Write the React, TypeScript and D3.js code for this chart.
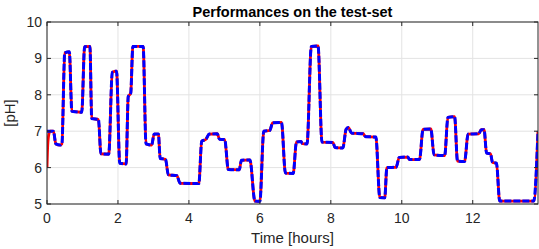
import * as d3 from 'd3';

// measured pH (blue, dashed) on the test set
const timeHours = [
  0.0, 0.18, 0.25, 0.37, 0.42, 0.5, 0.63, 0.7, 0.98, 1.06, 1.21, 1.26, 1.45, 1.52,
  1.74, 1.84, 1.96, 2.05, 2.23, 2.29, 2.36, 2.42, 2.71, 2.79, 2.95, 3.02, 3.14, 3.19,
  3.34, 3.42, 3.66, 3.75, 4.28, 4.36, 4.48, 4.57, 4.8, 4.86, 5.01, 5.11, 5.42, 5.48,
  5.72, 5.86, 6.0, 6.11, 6.28, 6.36, 6.61, 6.72, 6.94, 7.03, 7.16, 7.2, 7.33, 7.45,
  7.64, 7.75, 8.06, 8.12, 8.34, 8.43, 8.5, 8.58, 8.91, 8.98, 9.27, 9.38, 9.52, 9.58,
  9.84, 9.93, 10.17, 10.22, 10.5, 10.6, 10.82, 10.91, 11.21, 11.3, 11.49, 11.57,
  11.77, 11.87, 12.17, 12.24, 12.32, 12.39, 12.5, 12.56, 12.67, 12.76, 13.72, 13.84,
];
const phValues = [
  7.0, 7.0, 6.65, 6.62, 6.65, 9.15, 9.18, 7.55, 7.52, 9.32, 9.33, 7.35, 7.32, 6.38,
  6.37, 8.62, 8.65, 6.12, 6.1, 7.95, 8.05, 9.33, 9.33, 6.65, 6.62, 6.92, 6.92, 6.25,
  6.23, 5.8, 5.78, 5.57, 5.56, 6.72, 6.78, 6.92, 6.93, 6.78, 6.77, 5.95, 5.94, 6.2,
  6.21, 5.08, 5.07, 7.0, 7.02, 7.23, 7.24, 5.85, 5.84, 6.7, 6.72, 6.66, 6.65, 9.33,
  9.34, 6.7, 6.69, 6.55, 6.54, 7.05, 7.1, 6.95, 6.93, 6.85, 6.84, 5.18, 5.17, 6.0,
  6.01, 6.28, 6.29, 6.22, 6.22, 7.05, 7.06, 6.35, 6.33, 7.38, 7.4, 6.18, 6.17, 6.92,
  6.93, 7.04, 7.04, 6.4, 6.38, 6.14, 6.12, 5.08, 5.08, 7.0,
];

// model output (red) differs only at the very start
const modelStartTime = [0.0, 0.02, 0.05, 0.09];
const modelStartPh = [6.0, 6.6, 6.9, 7.0];

const xTicks = [0, 2, 4, 6, 8, 10, 12];
const yTicks = [5, 6, 7, 8, 9, 10];

const W = 539;
const H = 249;
const margin = { top: 22, right: 1, bottom: 45, left: 47 };
const font = '"Liberation Sans", Arial, sans-serif';

export default function App() {
  const iw = W - margin.left - margin.right;
  const ih = H - margin.top - margin.bottom;

  const x = d3.scaleLinear().domain([0, 13.84]).range([0, iw]);
  const y = d3.scaleLinear().domain([5, 10]).range([ih, 0]);

  const measured = timeHours.map((t, i) => [t, phValues[i]] as [number, number]);
  const model: [number, number][] = [
    ...modelStartTime.map((t, i) => [t, modelStartPh[i]] as [number, number]),
    ...measured.filter(d => d[0] > 0.09),
  ];

  const line = d3
    .line<[number, number]>()
    .x(d => x(d[0]))
    .y(d => y(d[1]))
    .curve(d3.curveMonotoneX);

  const axisColor = '#262626';

  return (
    <svg
      width={W}
      height={H}
      style={{ position: 'absolute', left: 0, top: 0, background: '#fff' }}
      fontFamily={font}
    >
      <defs>
        <clipPath id="plot">
          <rect x={0} y={-2} width={iw} height={ih + 4} />
        </clipPath>
      </defs>
      <text
        x={margin.left + iw / 2}
        y={16.5}
        textAnchor="middle"
        fontSize={14.5}
        fontWeight="bold"
        fill="#000"
      >
        Performances on the test-set
      </text>
      <g transform={`translate(${margin.left},${margin.top})`}>
        {xTicks.map(t => (
          <line key={'gx' + t} x1={x(t)} x2={x(t)} y1={0} y2={ih} stroke="#e3e3e3" strokeWidth={1} />
        ))}
        {yTicks.map(t => (
          <line key={'gy' + t} x1={0} x2={iw} y1={y(t)} y2={y(t)} stroke="#e3e3e3" strokeWidth={1} />
        ))}
        <g clipPath="url(#plot)">
          <path d={line(model) ?? ''} fill="none" stroke="#ff0000" strokeWidth={2.8} strokeLinejoin="round" />
          <path
            d={line(measured) ?? ''}
            fill="none"
            stroke="#0000ff"
            strokeWidth={3}
            strokeDasharray="7,2"
            strokeLinejoin="round"
          />
        </g>
        <rect x={0} y={0} width={iw} height={ih} fill="none" stroke={axisColor} strokeWidth={1} />
        {xTicks.map(t => (
          <g key={'tx' + t}>
            <line x1={x(t)} x2={x(t)} y1={ih} y2={ih - 4} stroke={axisColor} />
            <line x1={x(t)} x2={x(t)} y1={0} y2={4} stroke={axisColor} />
            <text x={x(t)} y={ih + 19} textAnchor="middle" fontSize={14} fill={axisColor}>
              {t}
            </text>
          </g>
        ))}
        {yTicks.map(t => (
          <g key={'ty' + t}>
            <line x1={0} x2={4} y1={y(t)} y2={y(t)} stroke={axisColor} />
            <line x1={iw} x2={iw - 4} y1={y(t)} y2={y(t)} stroke={axisColor} />
            <text x={-5} y={y(t) + 5} textAnchor="end" fontSize={14} fill={axisColor}>
              {t}
            </text>
          </g>
        ))}
        <text x={iw / 2} y={ih + 39} textAnchor="middle" fontSize={15} fill={axisColor}>
          Time [hours]
        </text>
        <text
          transform={`translate(${-32},${ih / 2}) rotate(-90)`}
          textAnchor="middle"
          fontSize={15}
          fill={axisColor}
        >
          [pH]
        </text>
      </g>
    </svg>
  );
}
